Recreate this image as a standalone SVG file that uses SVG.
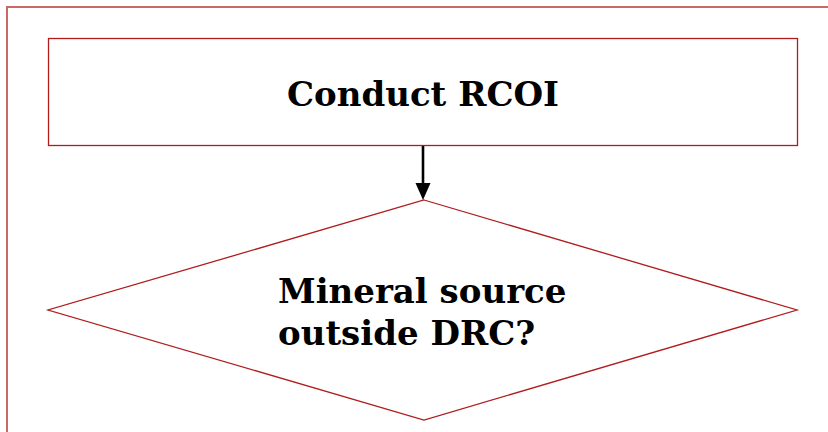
<svg xmlns="http://www.w3.org/2000/svg" width="828" height="432" viewBox="0 0 828 432">
<style>
.frame{fill:none;stroke:#c0504d;stroke-width:2;stroke-opacity:0.85}
.node{fill:#ffffff;stroke:#b01c1c;stroke-width:1.3}
.lbl{font-family:"DejaVu Serif","Liberation Serif",serif;font-weight:bold;font-size:34px;fill:#000}
.conn{stroke:#000;stroke-width:2.6;fill:none}
</style>
<rect width="828" height="432" fill="#fff"/>
<path class="frame" d="M7,432 V7 H828"/>
<g id="conduct">
<rect class="node" x="48.5" y="38.5" width="749" height="107"/>
<text class="lbl" x="423" y="106" text-anchor="middle">Conduct RCOI</text>
</g>
<g id="decision">
<polygon class="node" points="424,200 797,310 424,420 48,310"/>
<text class="lbl" x="278" y="303">Mineral source</text>
<text class="lbl" x="278" y="345">outside DRC?</text>
</g>
<g id="connectors">
<line class="conn" x1="423" y1="146" x2="423" y2="185"/>
<path d="M415.5,183 L430.5,183 L423,200 z" fill="#000"/>
</g>
</svg>
